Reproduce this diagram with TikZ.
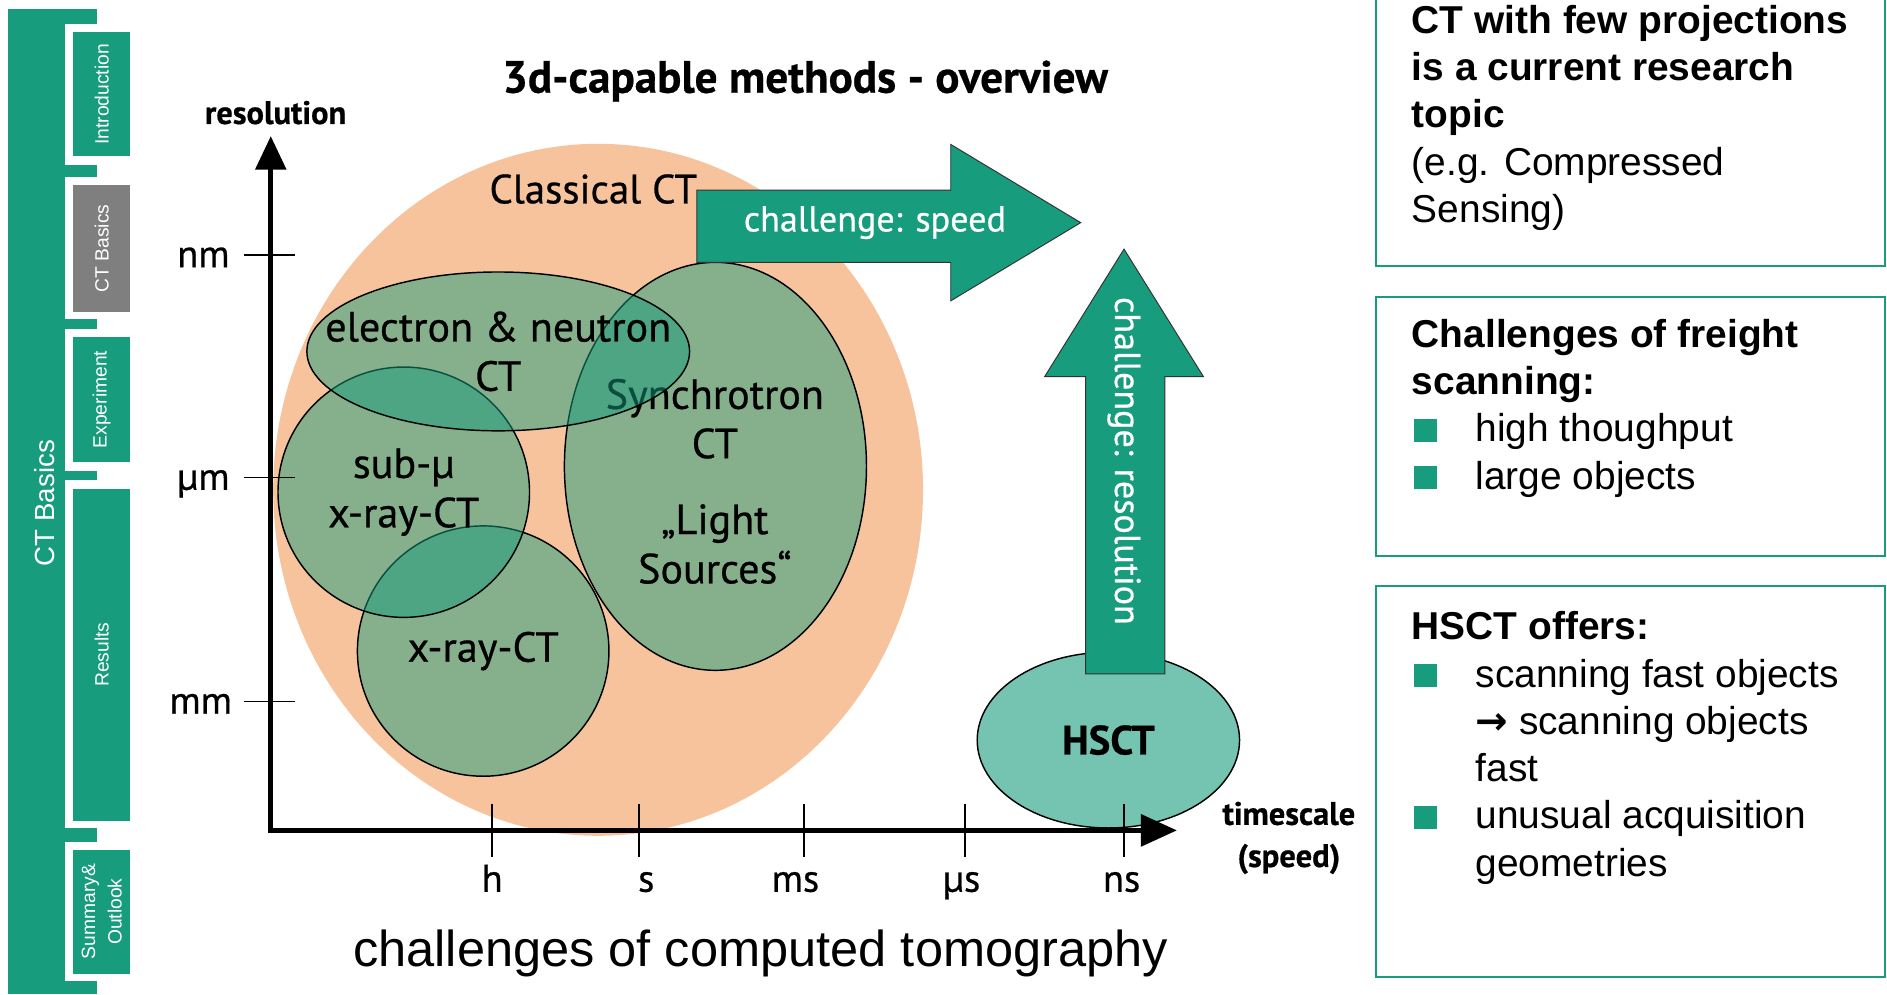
\documentclass[tikz,border=0pt]{standalone}
\usepackage{fontspec}
\setmainfont{Liberation Sans}
\newfontfamily\ptsans{PT Sans}[FakeBold=0.6]
\newfontfamily\symfont{DejaVu Sans}
\usepackage{xcolor}
\usepackage{tikz}
\usetikzlibrary{
  positioning,
  calc,
  arrows.meta,
  shapes.geometric
}
\definecolor{fhgreen}{RGB}{23,156,125}
\definecolor{peach}{RGB}{246,195,157}
\definecolor{tabgray}{RGB}{127,127,127}
\definecolor{hsctgreen}{RGB}{116,196,177}
\newcommand{\mumark}{\char"00B5\relax}
\newcommand{\bulsq}{\makebox[53pt][l]{\hspace{2pt}\textcolor{fhgreen}{\rule{19pt}{19pt}}}}
\newcommand{\indentbox}{\hspace*{53pt}}

\begin{document}
\begin{tikzpicture}[
      x=1pt, y=-1pt,
      tab/.style={rectangle, fill=fhgreen, rotate=90, minimum height=47pt, inner sep=0pt, text=white, align=center, font=\fontsize{16}{22}\selectfont},
      infobox/.style={draw=fhgreen, line width=1.6pt},
      infotext/.style={anchor=north west, inner sep=0pt, align=left, font=\fontsize{32.3}{39.3}\selectfont},
      blob/.style={ellipse, draw=black, line width=1.2pt, fill=fhgreen, fill opacity=0.5, inner sep=0pt},
      chartlbl/.style={inner sep=0pt, align=center, font=\ptsans\fontsize{35}{41}\selectfont},
      axlbl/.style={inner sep=0pt, font=\ptsans\fontsize{32}{38}\selectfont},
      boldlbl/.style={inner sep=0pt, align=center, font=\ptsans\bfseries\fontsize{27}{35}\selectfont},
      bigarrow/.style={fill=fhgreen, draw=black!80, line width=0.8pt},
      arrowlbl/.style={inner sep=0pt, text=white, font=\ptsans\fontsize{30}{36}\selectfont},
      tickline/.style={line width=1.2pt},
      axis/.style={line width=4.5pt, {Triangle[length=28pt, width=25pt]}-{Triangle[length=30pt, width=26pt]}}
    ]
      \useasboundingbox (0,0) rectangle (1568,826);

      % Sidebar
      \fill[fhgreen] (7,7.5) rectangle (54,826);
      \fill[fhgreen] (7,7.5) rectangle (81,20);
      \fill[fhgreen] (54,137) rectangle (81,147);
      \fill[fhgreen] (54,265) rectangle (81,273);
      \fill[fhgreen] (54,391) rectangle (81,399);
      \fill[fhgreen] (54,688) rectangle (81,700);
      \fill[fhgreen] (54,815) rectangle (81,826);
      \node[tab, minimum width=103pt] (intro) at (84.5,78.5) {Introduction};
      \node[tab, fill=tabgray, minimum width=105pt] (basics) at (84.5,206.5) {CT Basics};
      \node[tab, minimum width=104pt] (exper) at (84.5,332) {Experiment};
      \node[tab, minimum width=276pt] (results) at (84.5,544) {Results};
      \node[tab, minimum width=103pt] (summary) at (84.5,757.5) {Summary\&\\Outlook};
      \node[rotate=90, text=white, inner sep=0pt, font=\fontsize{23}{28}\selectfont] (chapter) at (37,418) {CT Basics};

      % Side boxes
      \draw[infobox] (1143,-10) rectangle (1566,221);
      \draw[infobox] (1143,247) rectangle (1566,462);
      \draw[infobox] (1143,487) rectangle (1566,812);
      \node[infotext] (fewproj) at (1173,4) {\textbf{CT with few projections}\\\textbf{is a current research}\\\textbf{topic}\\(e.g. Compressed\\Sensing)};
      \node[infotext] (freight) at (1173,265) {\textbf{Challenges of freight}\\\textbf{scanning:}\\\bulsq high thoughput\\\bulsq large objects};
      \node[infotext] (offers) at (1173,508) {\textbf{HSCT offers:}\\\bulsq scanning fast objects\\\indentbox{\symfont\bfseries →} scanning objects\\\indentbox fast\\\bulsq unusual acquisition\\\indentbox geometries};

      % Methods
      \node[ellipse, fill=peach, minimum width=540pt, minimum height=575pt, inner sep=0pt] (classical) at (497,407) {};
      \node[blob, minimum width=251pt, minimum height=339pt] (sync) at (594.5,387.5) {};
      \node[chartlbl] (synclbl) at (594,400) {Synchrotron\\CT\\[22pt]„Light\\Sources“};
      \node[blob, minimum width=209pt, minimum height=208pt] (xray) at (401.5,541) {};
      \node[chartlbl] (xraylbl) at (xray.center) {x-ray-CT};
      \node[blob, minimum width=209pt, minimum height=208pt] (submu) at (335.5,409) {};
      \node[chartlbl] (submulbl) at (submu.center) {sub-\mumark\\x-ray-CT};
      \node[blob, minimum width=318pt, minimum height=132pt] (elneu) at (414,292) {};
      \node[chartlbl] (elneulbl) at (elneu.center) {electron \& neutron\\CT};
      \node[chartlbl, anchor=base, font=\ptsans\fontsize{34}{41}\selectfont] (classlbl) at (493,169) {Classical CT};

      % Challenges
      \filldraw[bigarrow] (579,158) -- (790,158) -- (790,120) -- (898,185) -- (790,250) -- (790,218) -- (579,218) -- cycle;
      \node[arrowlbl] (speedlbl) at (727,185) {challenge: speed};
      \node[ellipse, fill=hsctgreen, draw=black, line width=1.2pt, minimum width=218pt, minimum height=146pt, inner sep=0pt, font=\ptsans\bfseries\fontsize{34}{36}\selectfont] (hsct) at (921,615) {HSCT};
      \filldraw[bigarrow] (902,560) -- (902,313) -- (868,313) -- (934,207) -- (1000,313) -- (968,313) -- (968,560) -- cycle;
      \node[arrowlbl, rotate=-90] (reslbl) at (934,383) {challenge: resolution};

      % Axes
      \coordinate (origin) at (225,690);
      \coordinate (ytip) at (225,113);
      \coordinate (xtip) at (978,690);
      \draw[axis] (ytip) -- (origin) -- (xtip);
      \draw[tickline] (203,212) -- (245,212);
      \draw[tickline] (203,397) -- (245,397);
      \draw[tickline] (203,583) -- (245,583);
      \draw[tickline] (409,668) -- (409,712);
      \draw[tickline] (531,668) -- (531,712);
      \draw[tickline] (668,668) -- (668,712);
      \draw[tickline] (802,668) -- (802,712);
      \draw[tickline] (934,668) -- (934,712);

      % Axis labels
      \node[axlbl, anchor=base east] (nm) at (191,222) {nm};
      \node[axlbl, anchor=base east] (um) at (191,407) {\mumark m};
      \node[axlbl, anchor=base east] (mm) at (193,593) {mm};
      \node[axlbl, anchor=base] (hour) at (409,741) {h};
      \node[axlbl, anchor=base] (sec) at (537,741) {s};
      \node[axlbl, anchor=base] (msec) at (661,741) {ms};
      \node[axlbl, anchor=base] (usec) at (799,741) {\mumark s};
      \node[axlbl, anchor=base] (nsec) at (932,741) {ns};
      \node[boldlbl, anchor=base] (reslabel) at (229,103) {resolution};
      \node[boldlbl, anchor=north] (timelabel) at (1071,666) {timescale\\(speed)};

      % Titles
      \node[inner sep=0pt, anchor=base, font=\ptsans\bfseries\fontsize{37.5}{40}\selectfont] (title) at (669,77) {3d-capable methods - overview};
      \node[inner sep=0pt, anchor=base, font=\fontsize{42}{48}\selectfont] (caption) at (632,803) {challenges of computed tomography};
    \end{tikzpicture}
\end{document}
